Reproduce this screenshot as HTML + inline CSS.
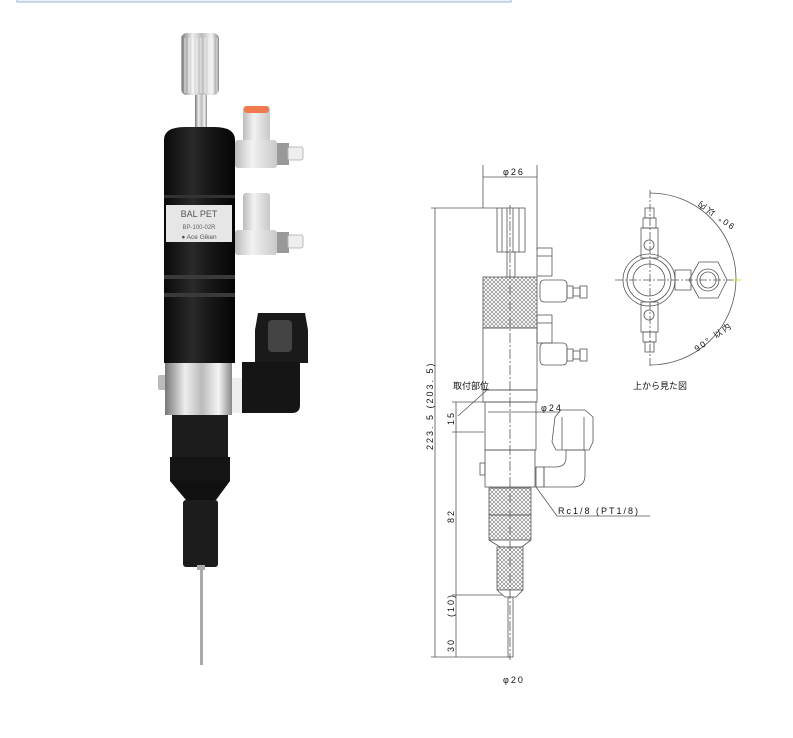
<!DOCTYPE html>
<html><head><meta charset="utf-8"><style>
html,body{margin:0;padding:0;background:#fff;}
svg{display:block;}
text{font-family:"Liberation Sans","Noto Sans CJK JP",sans-serif;fill:#111;}
</style></head><body>
<svg width="793" height="738" viewBox="0 0 793 738" xmlns="http://www.w3.org/2000/svg">
<defs>
<pattern id="kn" width="4" height="4" patternUnits="userSpaceOnUse">
<path d="M0 0L4 4M4 0L0 4" stroke="#777" stroke-width="0.6"/>
</pattern>
<pattern id="rib" width="4" height="10" patternUnits="userSpaceOnUse">
<rect width="2" height="10" fill="#ffffff" opacity="0.35"/>
</pattern>
<linearGradient id="silver" x1="0" x2="1">
<stop offset="0" stop-color="#777"/><stop offset="0.3" stop-color="#eee"/><stop offset="0.55" stop-color="#bbb"/><stop offset="0.8" stop-color="#f4f4f4"/><stop offset="1" stop-color="#888"/>
</linearGradient>
<linearGradient id="blk" x1="0" x2="1">
<stop offset="0" stop-color="#0a0a0a"/><stop offset="0.4" stop-color="#2a2a2a"/><stop offset="0.6" stop-color="#1a1a1a"/><stop offset="1" stop-color="#050505"/>
</linearGradient>
<linearGradient id="wht" x1="0" x2="1">
<stop offset="0" stop-color="#bbb"/><stop offset="0.4" stop-color="#f2f2f2"/><stop offset="1" stop-color="#c8c8c8"/>
</linearGradient>
</defs>
<rect x="17" y="-2" width="494" height="4" fill="#eef2fa" stroke="#9fb2d6" stroke-width="1"/>

<!-- PHOTO -->
<rect x="181" y="33" width="38" height="62" rx="6" fill="url(#silver)"/>
<rect x="181" y="38" width="38" height="55" fill="url(#rib)"/>
<rect x="195" y="95" width="12" height="33" fill="url(#silver)"/>
<rect x="243" y="106" width="27" height="36" rx="3" fill="url(#wht)"/>
<rect x="244" y="106" width="25" height="7" rx="3" fill="#f07a4e"/>
<rect x="235" y="140" width="42" height="28" rx="3" fill="url(#wht)"/>
<rect x="277" y="143" width="12" height="22" fill="#999"/>
<rect x="288" y="147" width="15" height="13" rx="2" fill="#eee" stroke="#bbb"/>
<rect x="243" y="193" width="27" height="40" rx="3" fill="url(#wht)"/>
<rect x="235" y="230" width="42" height="25" rx="3" fill="url(#wht)"/>
<rect x="277" y="232" width="12" height="21" fill="#999"/>
<rect x="288" y="235" width="15" height="13" rx="2" fill="#eee" stroke="#bbb"/>
<path d="M164 140 Q164 127 185 127 L214 127 Q235 127 235 140 L235 363 L164 363 Z" fill="url(#blk)"/>
<rect x="164" y="195" width="71" height="3" fill="#333"/>
<rect x="164" y="275" width="71" height="4" fill="#3a3a3a"/>
<rect x="164" y="293" width="71" height="4" fill="#3a3a3a"/>
<rect x="166" y="205" width="66" height="37" fill="#e6e6e6"/>
<text x="199" y="217" font-size="9" text-anchor="middle" style="fill:#555">BAL PET</text>
<text x="199" y="229" font-size="6" text-anchor="middle" style="fill:#666">BP-100-02R</text>
<text x="199" y="239" font-size="6.5" text-anchor="middle" style="fill:#555">● Ace Giken</text>
<rect x="228" y="378" width="16" height="35" rx="3" fill="#eee"/>
<path d="M258 313 L305 313 L308 330 L308 363 L255 363 L255 330 Z" fill="#1a1a1a"/>
<rect x="268" y="320" width="24" height="32" rx="4" fill="#444"/>
<path d="M242 362 L300 362 L300 405 Q300 413 292 413 L242 413 Z" fill="#151515"/>
<rect x="158" y="375" width="9" height="15" rx="2" fill="#bbb"/>
<rect x="165" y="363" width="67" height="52" fill="url(#silver)"/>
<rect x="172" y="415" width="56" height="42" fill="#1c1c1c"/>
<rect x="170" y="457" width="60" height="24" fill="#141414"/>
<path d="M170 481 L230 481 L216 500 L186 500 Z" fill="#111"/>
<rect x="183" y="500" width="35" height="67" rx="3" fill="#1c1c1c"/>
<rect x="197" y="565" width="8" height="5" fill="#aaa"/>
<rect x="200" y="568" width="3" height="97" fill="#aaa"/>

<!-- DRAWING -->
<g stroke="#555" stroke-width="0.8" fill="none">
<line x1="483" y1="165" x2="483" y2="208"/><line x1="537" y1="165" x2="537" y2="250"/>
<line x1="483" y1="177" x2="537" y2="177"/>
<line x1="435" y1="208" x2="435" y2="657"/>
<line x1="431" y1="208" x2="497" y2="208"/>
<line x1="431" y1="657" x2="510" y2="657"/>
<line x1="456" y1="402" x2="456" y2="657"/>
<line x1="452" y1="402" x2="484" y2="402"/>
<line x1="452" y1="432" x2="484" y2="432"/>
<line x1="452" y1="595" x2="503" y2="595"/>
<line x1="487" y1="390" x2="458" y2="416"/>
<line x1="488" y1="412" x2="560" y2="412"/>
<line x1="536" y1="487" x2="557" y2="516"/><line x1="557" y1="516" x2="650" y2="516"/>
<line x1="510" y1="205" x2="510" y2="660" stroke-dasharray="10,2,2,2"/>
<rect x="497" y="208" width="28" height="44"/>
<line x1="502" y1="208" x2="502" y2="252"/><line x1="507" y1="208" x2="507" y2="252"/><line x1="513" y1="208" x2="513" y2="252"/><line x1="519" y1="208" x2="519" y2="252"/>
<rect x="507" y="252" width="8" height="25"/>
<rect x="483" y="277" width="54" height="51" fill="url(#kn)"/>
<rect x="483" y="328" width="54" height="62"/>
<rect x="483" y="390" width="54" height="12"/>
<rect x="485" y="402" width="51" height="48"/>
<rect x="485" y="450" width="50" height="37"/>
<rect x="480" y="463" width="5" height="12"/>
<rect x="489" y="488" width="42" height="27" fill="url(#kn)"/>
<rect x="489" y="515" width="42" height="25" fill="url(#kn)"/>
<path d="M489 540 L500 547 L522 547 L531 540"/>
<rect x="497" y="547" width="26" height="43" fill="url(#kn)"/>
<path d="M497 590 L505 597 L516 597 L523 590"/>
<rect x="508" y="597" width="5" height="60"/>
<rect x="537" y="248" width="15" height="28"/><line x1="537" y1="256" x2="552" y2="256"/>
<rect x="540" y="280" width="27" height="22" rx="4"/>
<rect x="567" y="286" width="6" height="12"/><rect x="573" y="288" width="7" height="8"/><rect x="580" y="286" width="7" height="12"/>
<rect x="537" y="315" width="15" height="28"/><line x1="537" y1="323" x2="552" y2="323"/>
<rect x="540" y="343" width="27" height="22" rx="4"/>
<rect x="567" y="349" width="6" height="12"/><rect x="573" y="351" width="7" height="8"/><rect x="580" y="349" width="7" height="12"/>
<path d="M555 417 L561 410 L585 410 L593 417 L593 442 L589 450 L556 450 L552 442 Z"/>
<line x1="562" y1="417" x2="562" y2="450"/><line x1="584" y1="417" x2="584" y2="450"/>
<path d="M544 467 L555 467 Q566 467 566 458 L566 450 L585 450 L585 475 Q585 487 573 487 L544 487 Z"/>
<rect x="536" y="467" width="8" height="20"/>
<path d="M650 193 A86 86 0 0 1 650 365"/>
<line x1="650" y1="190" x2="650" y2="368" stroke-dasharray="8,2,2,2"/>
<line x1="615" y1="280" x2="740" y2="280" stroke-dasharray="8,2,2,2"/>
<circle cx="649" cy="280" r="26"/><circle cx="649" cy="280" r="22"/><circle cx="649" cy="280" r="16"/>
<rect x="641" y="228" width="17" height="30"/><circle cx="649" cy="245" r="5"/>
<rect x="643" y="218" width="13" height="10"/><rect x="645" y="208" width="9" height="10"/>
<rect x="641" y="302" width="17" height="30"/><circle cx="649" cy="315" r="5"/>
<rect x="643" y="332" width="13" height="10"/><rect x="645" y="342" width="9" height="10"/>
<rect x="675" y="270" width="16" height="20"/>
<path d="M699 262 L718 262 L727 280 L718 298 L699 298 L689 280 Z"/>
<circle cx="708" cy="280" r="11"/><circle cx="708" cy="280" r="8"/>
</g>
<line x1="733" y1="280" x2="741" y2="280" stroke="#dd3" stroke-width="1"/>
<g font-size="9" letter-spacing="2">
<text x="503" y="175">φ26</text>
<text x="503" y="683">φ20</text>
<text x="541" y="411">φ24</text>
<text x="558" y="514">Rc1/8 (PT1/8)</text>
<text x="453" y="389" letter-spacing="0">取付部位</text>
<text x="633" y="389" letter-spacing="0">上から見た図</text>
<text transform="translate(433,450) rotate(-90)">223. 5  (203. 5)</text>
<text transform="translate(454,425) rotate(-90)">15</text>
<text transform="translate(454,523) rotate(-90)">82</text>
<text transform="translate(454,617) rotate(-90)">(10)</text>
<text transform="translate(454,652) rotate(-90)">30</text>
<text transform="translate(735,225) rotate(-145)" font-size="8.5">90° 以内</text>
<text transform="translate(697,352) rotate(-35)" font-size="8.5">90° 以内</text>
</g>
</svg>
</body></html>
